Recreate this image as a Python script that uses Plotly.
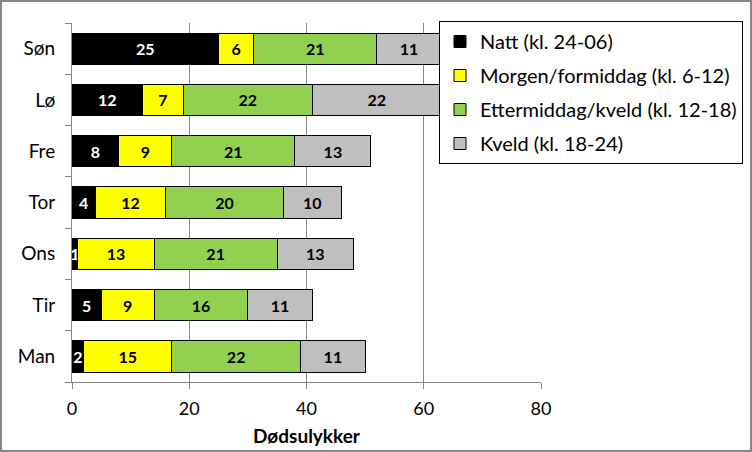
import plotly.graph_objects as go

days = ["Man", "Tir", "Ons", "Tor", "Fre", "Lø", "Søn"]
natt = [2, 5, 1, 4, 8, 12, 25]
morgen = [15, 9, 13, 12, 9, 7, 6]
ettermiddag = [22, 16, 21, 20, 21, 22, 21]
kveld = [11, 11, 13, 10, 13, 22, 11]

series = [
    ("Natt (kl. 24-06)", natt, "#000000", "#ffffff"),
    ("Morgen/formiddag (kl. 6-12)", morgen, "#ffff00", "#000000"),
    ("Ettermiddag/kveld (kl. 12-18)", ettermiddag, "#92d050", "#000000"),
    ("Kveld (kl. 18-24)", kveld, "#bfbfbf", "#000000"),
]

FONT = "Lato"
fig = go.Figure()
for i, (name, vals, col, tcol) in enumerate(series):
    fig.add_trace(go.Bar(
        y=days, x=vals, name=name, orientation="h",
        marker=dict(color=col, line=dict(color="#000000", width=1)),
        text=[str(v) for v in vals], textposition="inside",
        insidetextanchor="middle", textangle=0, constraintext="none",
        textfont=dict(family=FONT, size=16, color=tcol, weight="bold"),
        legendgroup=f"g{i}", hoverinfo="skip",
    ))

W, H = 752, 452
ml, mr, mt, mb = 72, 211, 23, 70
pw, ph = W - ml - mr, H - mt - mb

fig.update_layout(
    width=W, height=H, barmode="stack", bargap=0.39,
    margin=dict(l=ml, r=mr, t=mt, b=mb, pad=0, autoexpand=False),
    paper_bgcolor="white", plot_bgcolor="white",
    font=dict(family=FONT, color="#000000"),
    showlegend=True,
    legend=dict(
        xref="container", yref="container",
        x=439 / W, y=1 - 21 / H, xanchor="left", yanchor="top",
        bgcolor="white", bordercolor="#000000", borderwidth=1,
        font=dict(family=FONT, size=20, color="#000000"),
        traceorder="grouped", tracegroupgap=5, itemwidth=30,
    ),
    xaxis=dict(
        range=[0, 80], tickvals=[0, 20, 40, 60, 80],
        showgrid=True, gridcolor="#868686", gridwidth=1,
        showline=True, linecolor="#868686", linewidth=1,
        ticks="outside", ticklen=6, tickcolor="#868686",
        tickfont=dict(family=FONT, size=18), ticklabelstandoff=4,
        zeroline=False, fixedrange=True,
        title=dict(text="<b>Dødsulykker</b>", font=dict(family=FONT, size=19), standoff=12),
    ),
    yaxis=dict(
        categoryorder="array", categoryarray=days,
        showline=True, linecolor="#868686", linewidth=1,
        ticks="outside", ticklen=6, tickcolor="#868686", tickson="boundaries",
        tickfont=dict(family=FONT, size=19), ticklabelstandoff=12,
        showgrid=False, fixedrange=True,
    ),
    shapes=[dict(
        type="rect", xref="paper", yref="paper",
        x0=(1 - ml) / pw, x1=(W - 1 - ml) / pw,
        y0=-(mb - 1) / ph, y1=(ph + mt - 1) / ph,
        line=dict(color="#868686", width=2), layer="above",
    )],
)

fig.write_html(
    "out.html",
    config={"displayModeBar": False},
    post_script="document.body.style.margin='0';document.body.style.padding='0';document.body.style.overflow='hidden';",
)
